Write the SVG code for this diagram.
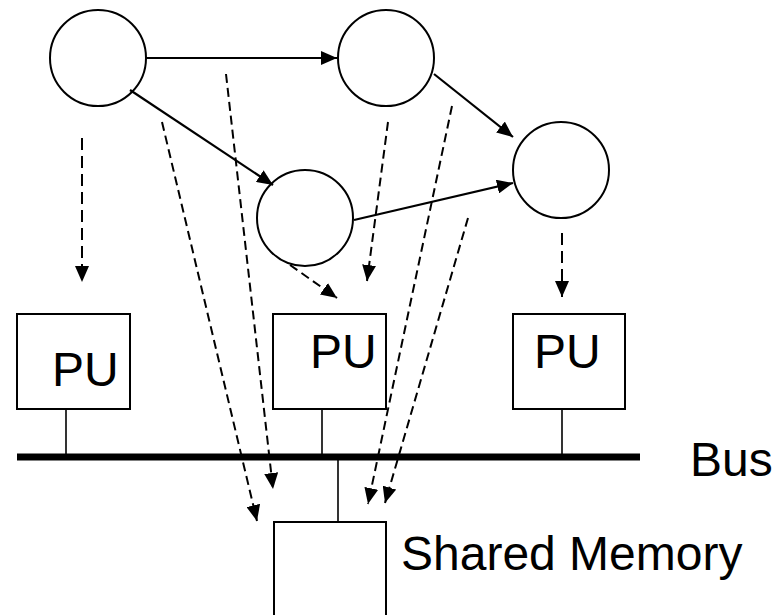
<svg xmlns="http://www.w3.org/2000/svg" width="774" height="615" viewBox="0 0 774 615">
  <defs>
    <marker id="arrow" viewBox="0 0 16 14" refX="16" refY="7" markerWidth="16" markerHeight="14" markerUnits="userSpaceOnUse" orient="auto">
      <path d="M0,0 L16,7 L0,14 z" fill="#000"/>
    </marker>
    <style>
      .task { fill: #fff; stroke: #000; stroke-width: 2; }
      .pu { fill: #fff; stroke: #000; stroke-width: 2; }
      .edge { fill: none; stroke: #000; stroke-width: 2.2; marker-end: url(#arrow); }
      .map { fill: none; stroke: #000; stroke-width: 2; stroke-dasharray: 9 5; marker-end: url(#arrow); }
      .map-long { stroke-dasharray: 12 6; }
      .stub { stroke: #000; stroke-width: 1.6; }
      .bus { stroke: #000; stroke-width: 7; }
      .label { font-family: "Liberation Sans", Arial, Helvetica, sans-serif; font-size: 48px; fill: #000; }
    </style>
  </defs>

  <!-- task graph nodes -->
  <g id="task-a"><circle class="task" cx="98" cy="58" r="48"/></g>
  <g id="task-b"><circle class="task" cx="386" cy="58" r="48"/></g>
  <g id="task-c"><circle class="task" cx="305" cy="218" r="48"/></g>
  <g id="task-d"><circle class="task" cx="561" cy="170" r="48"/></g>

  <!-- processing units -->
  <g id="pu-1">
    <rect class="pu" x="17" y="314" width="113" height="95"/>
    <text class="label" x="52" y="386">PU</text>
  </g>
  <g id="pu-2">
    <rect class="pu" x="273" y="314" width="113" height="95"/>
    <text class="label" x="310" y="368">PU</text>
  </g>
  <g id="pu-3">
    <rect class="pu" x="513" y="314" width="112" height="95"/>
    <text class="label" x="534" y="368">PU</text>
  </g>

  <!-- bus and shared memory -->
  <g id="bus">
    <line class="bus" x1="17" y1="457" x2="640" y2="457"/>
    <text class="label" x="690" y="476">Bus</text>
  </g>
  <g id="shared-memory">
    <rect class="pu" x="274" y="522" width="112" height="110"/>
    <text class="label" x="401" y="570">Shared Memory</text>
  </g>

  <!-- connectors -->
  <g id="connectors">
    <!-- bus attachments -->
    <line class="stub" x1="66" y1="409" x2="66" y2="457"/>
    <line class="stub" x1="322" y1="409" x2="322" y2="457"/>
    <line class="stub" x1="562" y1="409" x2="562" y2="457"/>
    <line class="stub" x1="338" y1="457" x2="338" y2="522"/>

    <!-- task dependencies -->
    <line class="edge" x1="146" y1="58" x2="337" y2="58"/>
    <line class="edge" x1="130" y1="90" x2="273" y2="185"/>
    <line class="edge" x1="434" y1="74" x2="513" y2="137"/>
    <line class="edge" x1="354" y1="220" x2="513" y2="183"/>

    <!-- task-to-PU and data-to-memory mappings -->
    <line class="map map-long" x1="82" y1="138" x2="82" y2="282"/>
    <line class="map" x1="162" y1="122" x2="257" y2="521"/>
    <line class="map" x1="226" y1="74" x2="273" y2="489"/>
    <line class="map" x1="290" y1="265" x2="337" y2="298"/>
    <line class="map" x1="388" y1="122" x2="367" y2="281"/>
    <line class="map" x1="452" y1="106" x2="368" y2="504"/>
    <line class="map" x1="468" y1="218" x2="385" y2="503"/>
    <line class="map map-long" x1="562" y1="233" x2="562" y2="297"/>
  </g>
</svg>
